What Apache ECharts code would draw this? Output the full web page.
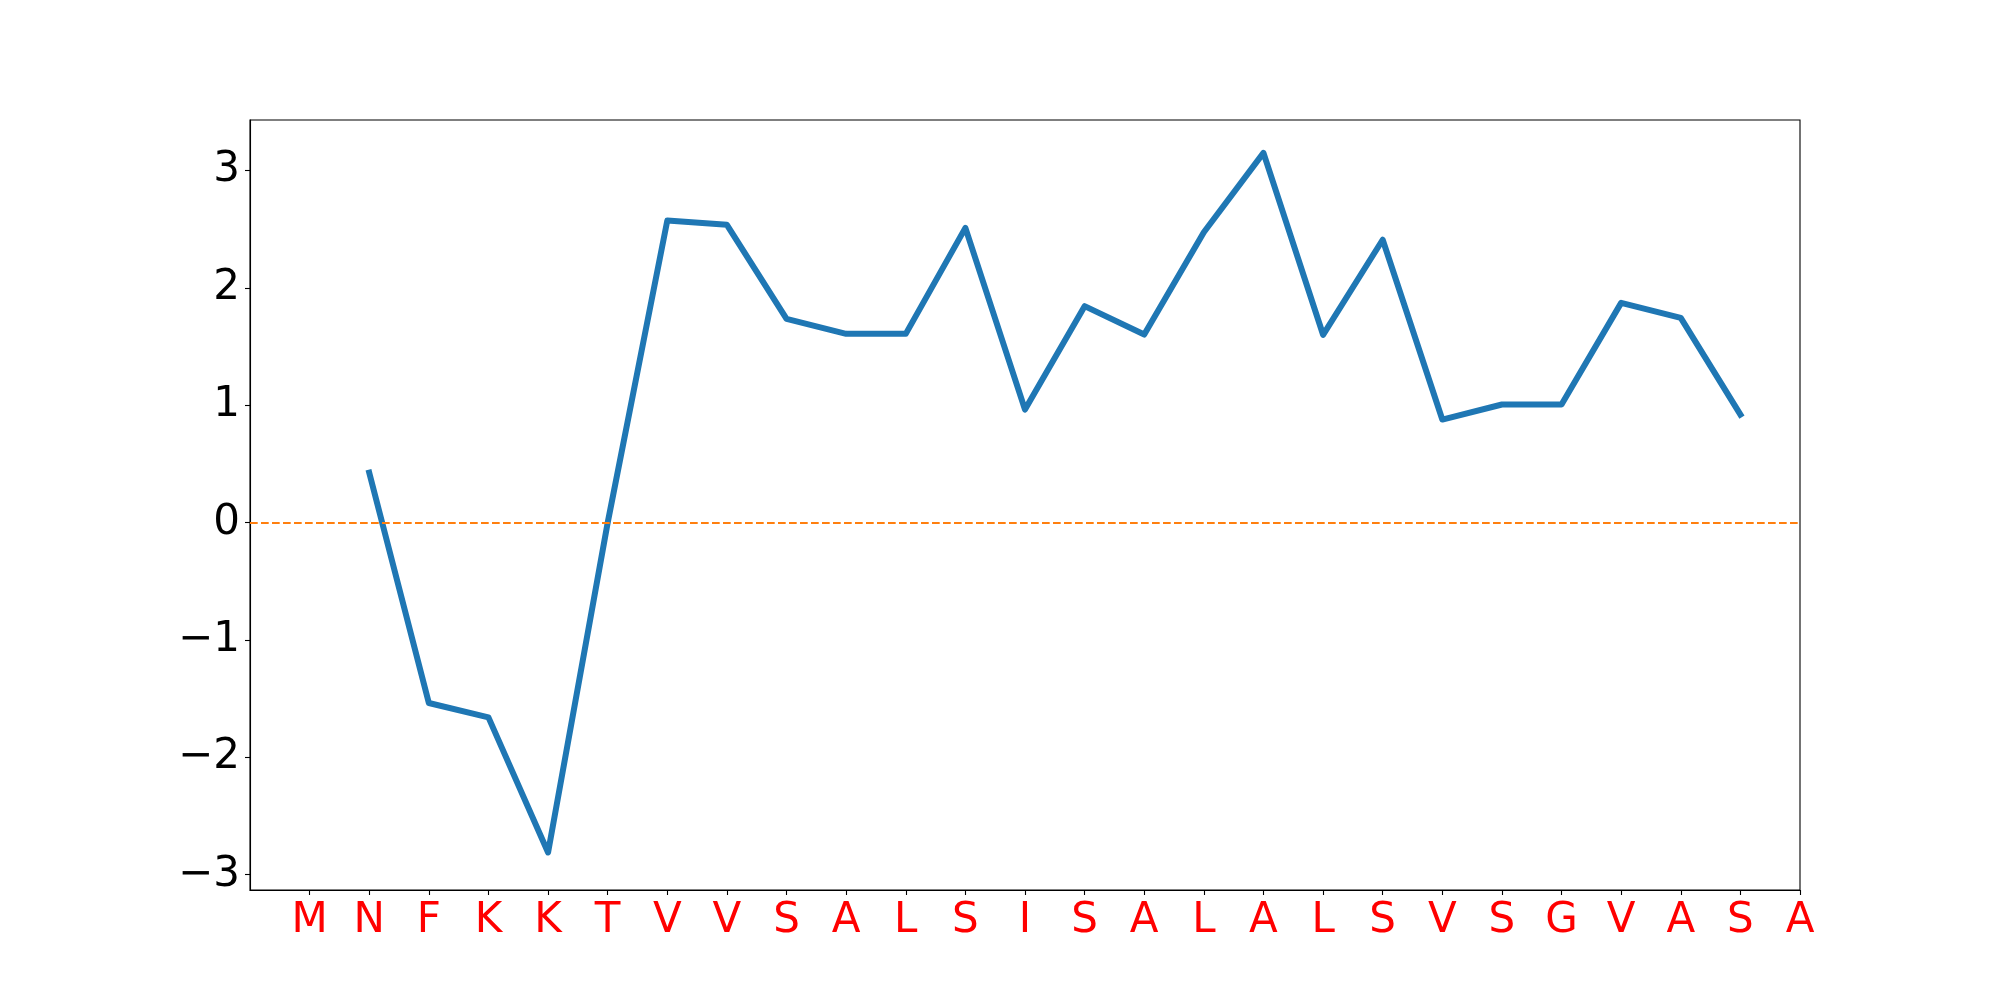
<!DOCTYPE html>
<html>
<head>
<meta charset="utf-8">
<script src="https://cdn.jsdelivr.net/npm/echarts@6/dist/echarts.min.js"></script>
<style>
html,body{margin:0;padding:0;background:#fff;}
#c{width:2000px;height:1000px;}
</style>
</head>
<body>
<div id="c"></div>
<script>
const residues = ['M','N','F','K','K','T','V','V','S','A','L','S','I','S','A','L','A','L','S','V','S','G','V','A','S','A'];
const scores = [null, 0.425, -1.537, -1.659, -2.81, 0.0, 2.574, 2.537, 1.736, 1.608, 1.608, 2.511, 0.963, 1.844, 1.602, 2.474, 3.15, 1.60, 2.41, 0.878, 1.006, 1.006, 1.872, 1.744, 0.92, null];
const yTicks = [-3, -2, -1, 0, 1, 2, 3];
const baseline = 0;

const positions = residues.map((r, i) => i);
const lineData = scores.map((v, i) => [i, v]);

const chart = echarts.init(document.getElementById('c'), null, {renderer: 'canvas'});
chart.setOption({
  animation: false,
  backgroundColor: '#ffffff',
  grid: {left: 250, right: 200, top: 120, bottom: 110, show: true, borderColor: '#000', borderWidth: 1.1, backgroundColor: 'transparent'},
  xAxis: {
    type: 'value', min: -1, max: 25,
    axisLine: {show: true, onZero: false, lineStyle: {color: '#000', width: 1.1}},
    axisTick: {show: true, inside: false, length: 5, lineStyle: {color: '#000', width: 1.1}, customValues: positions},
    axisLabel: {show: true, customValues: positions, margin: 10, color: '#ff0000', fontFamily: 'DejaVu Sans', fontSize: 42,
      formatter: v => residues[Math.round(v)] || ''},
    splitLine: {show: false}
  },
  yAxis: {
    type: 'value', min: -3.13, max: 3.43,
    axisLine: {show: true, onZero: false, lineStyle: {color: '#000', width: 1.1}},
    axisTick: {show: true, inside: false, length: 5, lineStyle: {color: '#000', width: 1.1}, customValues: yTicks},
    axisLabel: {show: true, customValues: yTicks, margin: 10, color: '#000', fontFamily: 'DejaVu Sans', fontSize: 42,
      formatter: v => (v < 0 ? '\u2212' + Math.abs(v) : String(v))},
    splitLine: {show: false}
  },
  series: [{
    type: 'line',
    data: lineData,
    showSymbol: false,
    symbol: 'none',
    connectNulls: false,
    lineStyle: {color: '#1f77b4', width: 6, cap: 'square', join: 'round'},
    markLine: {
      silent: true, symbol: ['none','none'], label: {show: false},
      lineStyle: {color: '#ff7f0e', width: 2.1, type: [7.7, 3.3], opacity: 1},
      data: [{yAxis: baseline}]
    },
    z: 3
  }]
});
</script>
</body>
</html>
